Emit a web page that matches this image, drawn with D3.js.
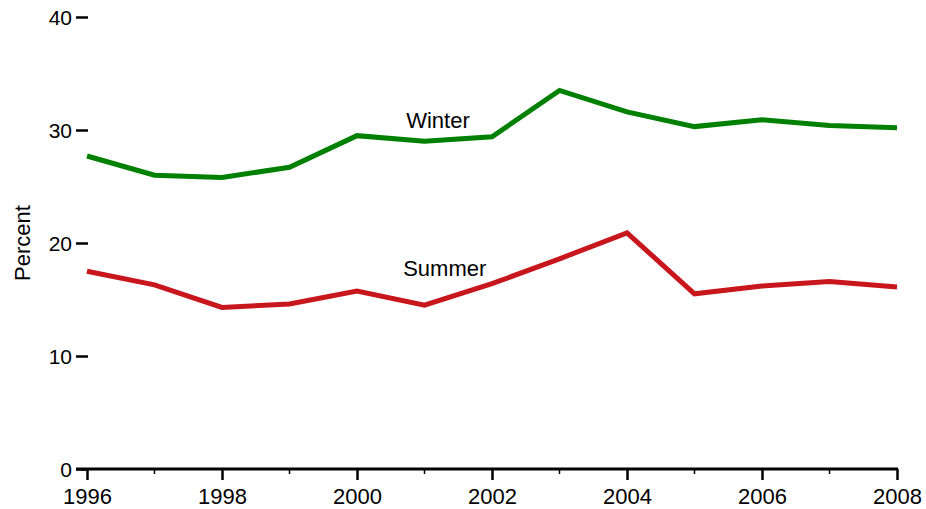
<!DOCTYPE html>
<html>
<head>
<meta charset="utf-8">
<script src="https://cdn.jsdelivr.net/npm/d3@7"></script>
<style>
  body { margin: 0; background: #fff; }
  svg text { font-family: "Liberation Sans", Arial, sans-serif; fill: #000; }
</style>
</head>
<body>
<svg id="chart" width="926" height="509"></svg>
<script>
// data
var years = [1996, 1997, 1998, 1999, 2000, 2001, 2002, 2003, 2004, 2005, 2006, 2007, 2008];
var winter = [27.7, 26.0, 25.8, 26.7, 29.5, 29.0, 29.4, 33.5, 31.6, 30.3, 30.9, 30.4, 30.2];
var summer = [17.5, 16.3, 14.3, 14.6, 15.75, 14.5, 16.4, 18.6, 20.9, 15.5, 16.2, 16.6, 16.1];
var yTicks = [0, 10, 20, 30, 40];
var xTicks = [1996, 1998, 2000, 2002, 2004, 2006, 2008];

const svg = d3.select("#chart");

// set the ranges
var x = d3.scaleLinear().domain([1996, 2008]).range([87, 897]);
var y = d3.scaleLinear().domain([0, 40]).range([469, 17]);

// Y axis: ticks only, no domain line
var yAxis = svg.append("g")
    .attr("transform", "translate(88,0)")
    .call(d3.axisLeft(y).tickValues(yTicks).tickSize(12).tickPadding(4));
yAxis.select(".domain").remove();
yAxis.selectAll(".tick line").attr("stroke", "#000").attr("stroke-width", 2.5);
yAxis.selectAll(".tick text").style("font-size", "21px").attr("dy", "0.35em");

// X axis: major ticks on even years, minor on odd years
var xAxis = svg.append("g")
    .attr("transform", "translate(0," + y(0) + ")")
    .call(d3.axisBottom(x).tickValues(xTicks).tickFormat(d3.format("d")).tickSize(11).tickSizeOuter(0).tickPadding(8));
xAxis.select(".domain").remove();
xAxis.selectAll(".tick line").attr("stroke", "#000").attr("stroke-width", 2.5);
xAxis.selectAll(".tick text").style("font-size", "22px").attr("dy", "0.71em");

svg.append("g")
    .attr("transform", "translate(0," + y(0) + ")")
    .selectAll("line")
    .data(years.filter(function(d) { return d % 2 === 1; }))
    .enter().append("line")
    .attr("x1", function(d) { return x(d); })
    .attr("x2", function(d) { return x(d); })
    .attr("y1", 0)
    .attr("y2", 5)
    .attr("stroke", "#000")
    .attr("stroke-width", 1.5);

// baseline
svg.append("line")
    .attr("x1", 76).attr("x2", x(2008) + 1)
    .attr("y1", y(0)).attr("y2", y(0))
    .attr("stroke", "#000")
    .attr("stroke-width", 3);

// axis title
svg.append("text")
    .attr("transform", "translate(30," + y(20) + ") rotate(-90)")
    .attr("text-anchor", "middle")
    .style("font-size", "22px")
    .text("Percent");

// lines
var line = d3.line()
    .x(function(d, i) { return x(years[i]); })
    .y(function(d) { return y(d); });

var series = [winter, summer];
var colours = ["#008000", "#c8161d"];
var names = ["Winter", "Summer"];
var labelPos = [[2001.2, 30.2], [2001.3, 17.1]];

for (var i = 0; i < series.length; i++) {
  svg.append("path")
      .datum(series[i])
      .style("fill", "none")
      .style("stroke", colours[i])
      .style("stroke-width", 5)
      .attr("stroke-linejoin", "miter")
      .attr("d", line);

  svg.append("text")
      .attr("x", x(labelPos[i][0]))
      .attr("y", y(labelPos[i][1]))
      .attr("text-anchor", "middle")
      .style("font-size", "22px")
      .text(names[i]);
}
</script>
</body>
</html>
